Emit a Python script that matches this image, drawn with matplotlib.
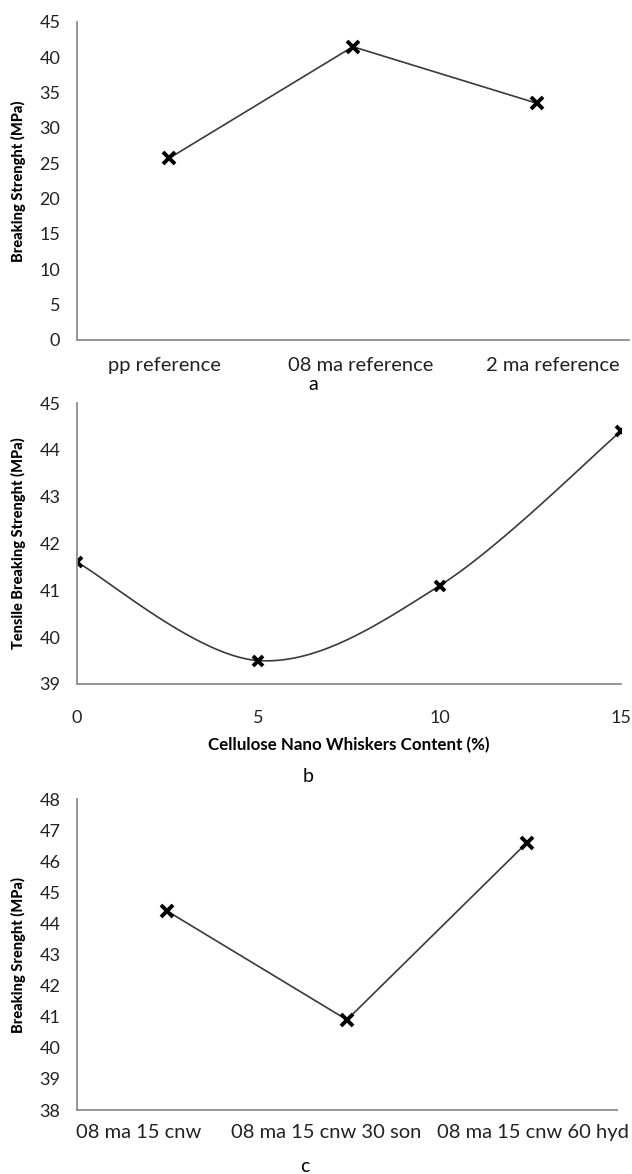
import numpy as np
import matplotlib
matplotlib.use("Agg")
import matplotlib.pyplot as plt
from matplotlib.transforms import ScaledTranslation

plt.rcParams['font.family'] = ['Lato', 'DejaVu Sans']

# panel a
cats_a = ['pp reference', '08 ma reference', '2 ma reference']
vals_a = [25.7, 41.5, 33.5]

# panel b
cnw_b = [0, 5, 10, 15]
vals_b = [41.6, 39.5, 41.1, 44.4]

# panel c
cats_c = ['08 ma 15 cnw', '08 ma 15 cnw 30 son', '08 ma 15 cnw 60 hyd']
vals_c = [44.4, 40.9, 46.6]

AXCOL = '#8c8c8c'
LINECOL = '#3a3a3a'


def smooth(x, y, n=40):
    # Catmull-Rom style smoothing like excel's smoothed line
    x = np.asarray(x, float)
    y = np.asarray(y, float)
    px = np.concatenate([[x[0]], x, [x[-1]]])
    py = np.concatenate([[y[0]], y, [y[-1]]])
    xs, ys = [], []
    for i in range(1, len(px) - 2):
        p0 = np.array([px[i - 1], py[i - 1]])
        p1 = np.array([px[i], py[i]])
        p2 = np.array([px[i + 1], py[i + 1]])
        p3 = np.array([px[i + 2], py[i + 2]])
        c1 = p1 + (p2 - p0) / 6
        c2 = p2 - (p3 - p1) / 6
        t = np.linspace(0, 1, n)[:, None]
        pts = ((1 - t) ** 3) * p1 + 3 * ((1 - t) ** 2) * t * c1 + 3 * (1 - t) * t ** 2 * c2 + t ** 3 * p2
        xs.extend(pts[:, 0])
        ys.extend(pts[:, 1])
    return xs, ys


def style(ax):
    for s in ['top', 'right']:
        ax.spines[s].set_visible(False)
    for s in ['left', 'bottom']:
        ax.spines[s].set_color(AXCOL)
        ax.spines[s].set_linewidth(1.3)
    ax.tick_params(length=0, labelsize=13, colors='#222222', pad=12)


def shift_labels(fig, ax, shifts):
    # the category labels in the original are not centred on the points
    for lab, dx in zip(ax.get_xticklabels(), shifts):
        lab.set_transform(lab.get_transform() + ScaledTranslation(dx / 100, 0, fig.dpi_scale_trans))


fig = plt.figure(figsize=(6.32, 11.74), dpi=100)

# a
ax1 = fig.add_axes([0.1218, 0.7104, 0.873, 0.2709])
ax1.plot(range(3), vals_a, color=LINECOL, lw=1.2, marker='x', ms=8.5, mew=2.8, mec='black')
ax1.set_xlim(-0.5, 2.5)
ax1.set_ylim(0, 45)
ax1.set_yticks(np.arange(0, 46, 5))
ax1.set_xticks(range(3))
ax1.set_xticklabels(cats_a)
style(ax1)
ax1.tick_params(axis='x', labelsize=14.5, pad=12)
shift_labels(fig, ax1, [-4, 8, 16])
ax1.set_ylabel('Breaking Strenght (MPa)', fontsize=10.5, fontweight='black')
ax1.yaxis.set_label_coords(-0.092, 0.5)
fig.text(313 / 632, 1 - 384 / 1174, 'a', fontsize=14, ha='center', va='center')

# b
ax2 = fig.add_axes([0.1218, 0.4174, 0.8608, 0.2393])
sx, sy = smooth(cnw_b, vals_b)
ax2.plot(sx, sy, color=LINECOL, lw=1.2)
ax2.plot(cnw_b, vals_b, ls='none', marker='x', ms=7, mew=2.8, color='black')
ax2.set_xlim(0, 15)
ax2.set_ylim(39, 45)
ax2.set_xticks(cnw_b)
ax2.set_yticks(range(39, 46))
style(ax2)
ax2.tick_params(axis='x', pad=19)
ax2.set_ylabel('Tensile Breaking Strenght (MPa)', fontsize=10.5, fontweight='black')
ax2.yaxis.set_label_coords(-0.094, 0.5)
ax2.set_xlabel('Cellulose Nano Whiskers Content (%)', fontsize=12.2, fontweight='bold')
ax2.xaxis.set_label_coords((349 / 632 - 0.1218) / 0.8608, -0.19)
fig.text(308 / 632, 1 - 777 / 1174, 'b', fontsize=14, ha='center', va='center')

# c
ax3 = fig.add_axes([0.1218, 0.0545, 0.8544, 0.2649])
ax3.plot(range(3), vals_c, color=LINECOL, lw=1.2, marker='x', ms=8.5, mew=2.8, mec='black')
ax3.set_xlim(-0.5, 2.5)
ax3.set_ylim(38, 48)
ax3.set_yticks(range(38, 49))
ax3.set_xticks(range(3))
ax3.set_xticklabels(cats_c)
style(ax3)
ax3.tick_params(axis='x', labelsize=14.5, pad=10)
shift_labels(fig, ax3, [-28, -21, 6])
ax3.set_ylabel('Breaking Srenght (MPa)', fontsize=10.5, fontweight='black')
ax3.yaxis.set_label_coords(-0.094, 0.5)
fig.text(305 / 632, 1 - 1167 / 1174, 'c', fontsize=14, ha='center', va='center')

fig.savefig('out.png', dpi=100)
